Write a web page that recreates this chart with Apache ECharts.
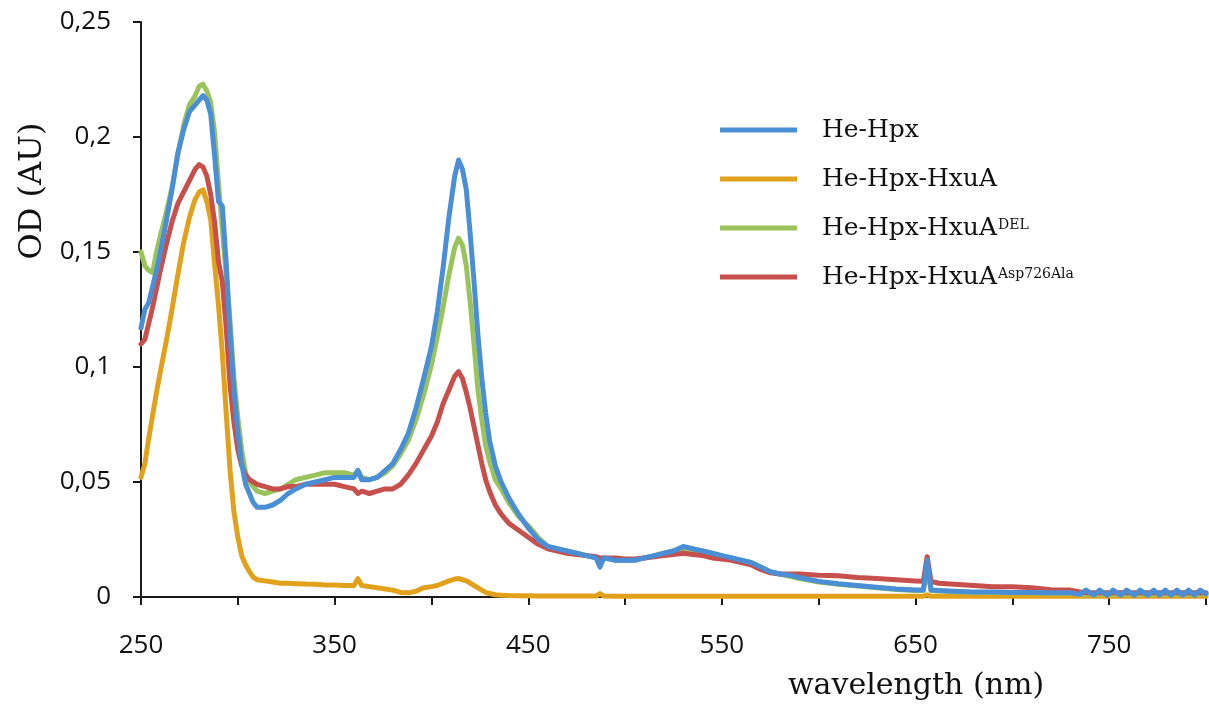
<!DOCTYPE html>
<html>
<head>
  <meta charset="utf8">
  <script src="https://cdn.jsdelivr.net/npm/echarts@6/dist/echarts.min.js"></script>
  <style>
    html, body { margin: 0; padding: 0; background: #fff; }
    #main { width: 1209px; height: 708px; }
  </style>
</head>
<body>
<div id="main"></div>
<script type="text/javascript">
  // wavelength (nm), shared by all four spectra
  var wavelength = [
    250, 252, 254, 256, 258, 260, 263, 266, 269, 272, 275, 278,
    280, 282, 284, 286, 288, 290, 292, 294, 296, 298,
    300, 302, 304, 306, 308, 310, 314, 318, 322, 326, 330, 335, 340, 345, 350, 355, 360,
    362, 364, 368, 372, 376, 380, 384, 388, 392, 396,
    400, 403, 406, 409, 412, 414, 416, 418, 420, 422, 424, 426, 428, 430,
    433, 436, 440, 445, 450, 455, 460, 465, 470, 475, 480, 485, 487, 489,
    495, 500, 505, 510, 515, 520, 525, 530, 535, 540, 545, 550, 555, 560, 565, 570, 575, 580, 585, 590,
    600, 610, 620, 630, 640, 650, 654, 656, 658, 662, 670, 680, 690, 700, 710, 720, 730,
    735, 738, 742, 745, 749, 752, 756, 759, 763, 766, 770, 773, 776, 779, 782, 785, 788, 791, 794, 797, 800
  ];

  var seriesNames = ['He-Hpx', 'He-Hpx-HxuA', 'He-Hpx-HxuA DEL', 'He-Hpx-HxuA Asp726Ala'];
  var superscripts = ['', '', 'DEL', 'Asp726Ala'];
  var seriesColors = ['#4a8fd6', '#e2a11b', '#9bc35c', '#c8504c'];

  var heHpx = [
    0.117, 0.125, 0.128, 0.135, 0.142, 0.150, 0.163, 0.177, 0.193, 0.203, 0.211, 0.214,
    0.216, 0.218, 0.216, 0.210, 0.192, 0.172, 0.170, 0.145, 0.115, 0.090,
    0.072, 0.058, 0.049, 0.045, 0.041, 0.039, 0.039, 0.040, 0.042, 0.045, 0.047, 0.049, 0.050, 0.051, 0.052, 0.052, 0.052,
    0.055, 0.051, 0.051, 0.052, 0.055, 0.058, 0.064, 0.071, 0.082, 0.095,
    0.109, 0.124, 0.143, 0.165, 0.183, 0.190, 0.186, 0.177, 0.158, 0.137, 0.114, 0.095, 0.080, 0.068,
    0.057, 0.050, 0.043, 0.036, 0.030, 0.025, 0.022, 0.021, 0.020, 0.019, 0.018, 0.017, 0.013, 0.017,
    0.016, 0.016, 0.016, 0.017, 0.018, 0.019, 0.020, 0.022, 0.021, 0.020, 0.019, 0.018, 0.017, 0.016, 0.015, 0.013, 0.011, 0.010, 0.0095, 0.0085,
    0.0068, 0.0058, 0.0050, 0.0042, 0.0035, 0.0030, 0.0030, 0.0160, 0.0030, 0.0028, 0.0025, 0.0022, 0.0022, 0.0020, 0.0020, 0.0018, 0.0018,
    0.0012, 0.0030, 0.0008, 0.0030, 0.0008, 0.0030, 0.0008, 0.0030, 0.0008, 0.0030, 0.0008, 0.0030, 0.0008, 0.0030, 0.0008, 0.0030, 0.0008, 0.0030, 0.0008, 0.0030, 0.0015
  ];

  var heHpxHxuA = [
    0.052, 0.058, 0.069, 0.079, 0.089, 0.098, 0.111, 0.125, 0.140, 0.154, 0.165, 0.173,
    0.176, 0.177, 0.172, 0.164, 0.145, 0.127, 0.106, 0.080, 0.055, 0.037,
    0.026, 0.018, 0.014, 0.011, 0.0085, 0.0075, 0.0070, 0.0065, 0.0060, 0.0060, 0.0058, 0.0056, 0.0055, 0.0052, 0.0052, 0.0050, 0.0050,
    0.0080, 0.0050, 0.0045, 0.0040, 0.0035, 0.0030, 0.0020, 0.0018, 0.0025, 0.0040,
    0.0045, 0.0050, 0.0060, 0.0070, 0.0078, 0.0080, 0.0075, 0.0070, 0.0060, 0.0050, 0.0040, 0.0030, 0.0020, 0.0015,
    0.0010, 0.0008, 0.0006, 0.0005, 0.0005, 0.0004, 0.0004, 0.0004, 0.0004, 0.0004, 0.0004, 0.0004, 0.0015, 0.0004,
    0.0003, 0.0003, 0.0003, 0.0003, 0.0003, 0.0003, 0.0003, 0.0003, 0.0003, 0.0003, 0.0003, 0.0003, 0.0003, 0.0003, 0.0003, 0.0003, 0.0003, 0.0003, 0.0003, 0.0003,
    0.0003, 0.0003, 0.0003, 0.0003, 0.0003, 0.0003, 0.0003, 0.0010, 0.0003, 0.0003, 0.0003, 0.0003, 0.0003, 0.0003, 0.0003, 0.0003, 0.0003,
    0.0003, 0.0003, 0.0003, 0.0003, 0.0003, 0.0003, 0.0003, 0.0003, 0.0003, 0.0003, 0.0003, 0.0003, 0.0003, 0.0003, 0.0003, 0.0003, 0.0003, 0.0003, 0.0003, 0.0003, 0.0003
  ];

  var heHpxHxuADel = [
    0.150, 0.144, 0.142, 0.141, 0.150, 0.157, 0.167, 0.178, 0.192, 0.205, 0.214, 0.218,
    0.222, 0.223, 0.220, 0.215, 0.202, 0.180, 0.160, 0.140, 0.120, 0.095,
    0.078, 0.064, 0.054, 0.050, 0.048, 0.046, 0.045, 0.046, 0.047, 0.049, 0.051, 0.052, 0.053, 0.054, 0.054, 0.054, 0.053,
    0.055, 0.052, 0.051, 0.052, 0.054, 0.057, 0.062, 0.068, 0.077, 0.088,
    0.101, 0.113, 0.126, 0.140, 0.152, 0.156, 0.153, 0.144, 0.128, 0.110, 0.090, 0.077, 0.066, 0.059,
    0.051, 0.047, 0.041, 0.035, 0.031, 0.026, 0.022, 0.021, 0.020, 0.019, 0.018, 0.017, 0.014, 0.017,
    0.016, 0.016, 0.016, 0.017, 0.018, 0.019, 0.020, 0.021, 0.020, 0.020, 0.019, 0.018, 0.017, 0.016, 0.015, 0.013, 0.011, 0.010, 0.009, 0.008,
    0.0065, 0.0055, 0.0048, 0.0040, 0.0033, 0.0028, 0.0028, 0.0120, 0.0028, 0.0026, 0.0023, 0.0020, 0.0020, 0.0018, 0.0018, 0.0016, 0.0016,
    0.0012, 0.0012, 0.0012, 0.0012, 0.0012, 0.0012, 0.0012, 0.0012, 0.0012, 0.0012, 0.0012, 0.0012, 0.0012, 0.0012, 0.0012, 0.0012, 0.0012, 0.0012, 0.0012, 0.0012, 0.0012
  ];

  var heHpxHxuAAsp = [
    0.110, 0.112, 0.119, 0.126, 0.134, 0.142, 0.153, 0.163, 0.171, 0.176, 0.181, 0.186,
    0.188, 0.187, 0.183, 0.175, 0.163, 0.146, 0.137, 0.117, 0.092, 0.076,
    0.064, 0.057, 0.053, 0.051, 0.050, 0.049, 0.048, 0.047, 0.047, 0.048, 0.048, 0.049, 0.049, 0.049, 0.049, 0.048, 0.047,
    0.045, 0.046, 0.045, 0.046, 0.047, 0.047, 0.049, 0.053, 0.058, 0.064,
    0.070, 0.076, 0.084, 0.090, 0.096, 0.098, 0.095, 0.089, 0.082, 0.074, 0.066, 0.058, 0.051, 0.046,
    0.040, 0.036, 0.032, 0.029, 0.026, 0.023, 0.021, 0.020, 0.019, 0.0185, 0.018, 0.0175, 0.017, 0.017,
    0.017, 0.0165, 0.0165, 0.017, 0.0175, 0.018, 0.0185, 0.019, 0.0185, 0.018, 0.017, 0.0165, 0.016, 0.015, 0.014, 0.012, 0.0105, 0.010, 0.010, 0.010,
    0.0095, 0.0092, 0.0085, 0.0080, 0.0075, 0.0070, 0.0068, 0.0175, 0.0068, 0.0060, 0.0055, 0.0050, 0.0045, 0.0045, 0.0040, 0.0032, 0.0030,
    0.0022, 0.0018, 0.0018, 0.0018, 0.0018, 0.0018, 0.0018, 0.0018, 0.0018, 0.0018, 0.0018, 0.0018, 0.0018, 0.0018, 0.0018, 0.0018, 0.0018, 0.0018, 0.0018, 0.0018, 0.0018
  ];

  var seriesValues = [heHpx, heHpxHxuA, heHpxHxuADel, heHpxHxuAAsp];
  var seriesZ = [5, 2, 3, 4];

  function pairs(values) {
    var out = [];
    for (var i = 0; i < wavelength.length; i++) {
      out.push([wavelength[i], values[i]]);
    }
    return out;
  }

  var series = [];
  for (var k = 0; k < seriesNames.length; k++) {
    series.push({
      name: seriesNames[k],
      type: 'line',
      data: pairs(seriesValues[k]),
      showSymbol: false,
      z: seriesZ[k],
      color: seriesColors[k],
      lineStyle: { width: 5, color: seriesColors[k], join: 'round', cap: 'round' }
    });
  }

  var serif = 'DejaVu Serif';
  var sans = 'Open Sans';

  var myChart = echarts.init(document.getElementById('main'));
  var option = {
    animation: false,
    backgroundColor: '#fff',
    grid: { left: 141, right: 2, top: 22, bottom: 111 },
    xAxis: {
      type: 'value',
      min: 250,
      max: 800,
      interval: 50,
      axisLine: { lineStyle: { color: '#1a1a1a', width: 2 } },
      axisTick: { length: 8, lineStyle: { color: '#1a1a1a', width: 2 } },
      splitLine: { show: false },
      axisLabel: {
        margin: 36,
        color: '#111',
        fontFamily: sans,
        fontSize: 26,
        formatter: function (v) {
          return (v - 250) % 100 === 0 ? String(v) : '';
        }
      }
    },
    yAxis: {
      type: 'value',
      min: 0,
      max: 0.25,
      interval: 0.05,
      axisLine: { show: true, lineStyle: { color: '#1a1a1a', width: 2 } },
      axisTick: { show: true, length: 8, lineStyle: { color: '#1a1a1a', width: 2 } },
      splitLine: { show: false },
      axisLabel: {
        margin: 30,
        color: '#111',
        fontFamily: sans,
        fontSize: 26,
        formatter: function (v) {
          return v === 0 ? '0' : String(+v.toFixed(2)).replace('.', ',');
        }
      }
    },
    legend: {
      orient: 'vertical',
      left: 720,
      top: 115,
      padding: 0,
      icon: 'rect',
      itemWidth: 77,
      itemHeight: 5,
      itemGap: 19,
      data: seriesNames,
      formatter: function (name) {
        var i = seriesNames.indexOf(name);
        var base = superscripts[i] ? name.split(' ')[0] : name;
        var s = '{n|' + base + '}';
        if (superscripts[i]) s += '{s|' + superscripts[i] + '}';
        return s;
      },
      textStyle: {
        color: '#111',
        fontFamily: serif,
        fontSize: 25,
        lineHeight: 30,
        rich: {
          n: { fontFamily: serif, fontSize: 25, lineHeight: 30, color: '#111', padding: [0, 0, 0, 20] },
          s: { fontFamily: serif, fontSize: 14, lineHeight: 16, color: '#111', verticalAlign: 'top', padding: [5, 0, 0, 1] }
        }
      }
    },
    graphic: [
      {
        type: 'text',
        x: 33,
        y: 191,
        rotation: Math.PI / 2,
        style: { text: 'OD (AU)', font: '32px "DejaVu Serif"', fill: '#111', align: 'center', verticalAlign: 'middle' }
      },
      {
        type: 'text',
        x: 916,
        y: 686,
        style: { text: 'wavelength (nm)', font: '30px "DejaVu Serif"', fill: '#111', align: 'center', verticalAlign: 'middle' }
      }
    ],
    series: series
  };
  myChart.setOption(option);
</script>
</body>
</html>
